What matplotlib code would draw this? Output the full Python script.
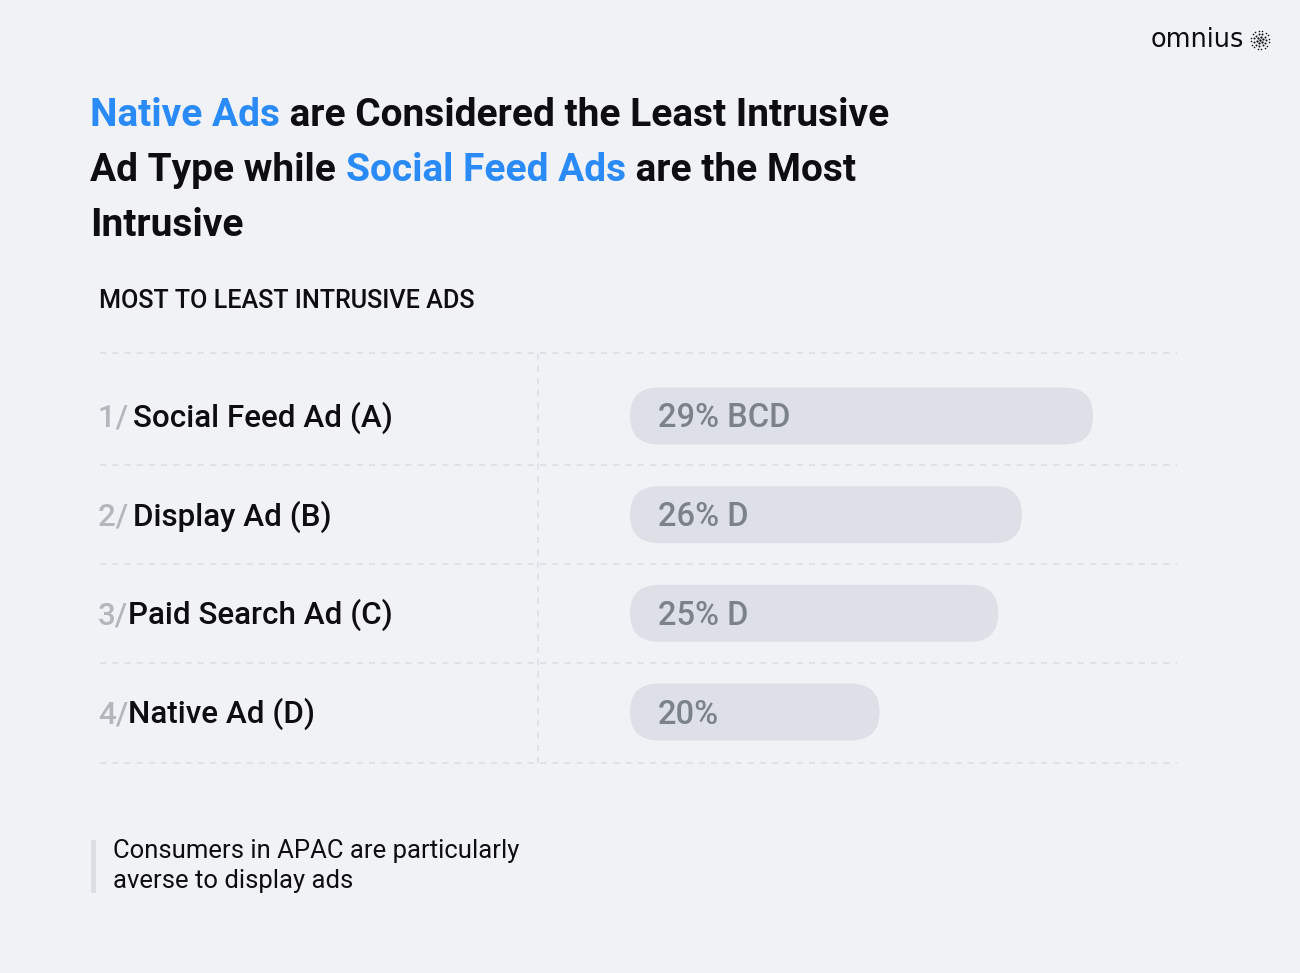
import matplotlib
matplotlib.use("Agg")
import matplotlib.pyplot as plt
from matplotlib.patches import FancyBboxPatch, Rectangle
from matplotlib.transforms import blended_transform_factory, offset_copy
import numpy as np

# ---------------- data ----------------
categories = ["Social Feed Ad (A)", "Display Ad (B)", "Paid Search Ad (C)", "Native Ad (D)"]
ranks = ["1/ ", "2/ ", "3/", "4/"]
values = [29, 26, 25, 20]
sig_letters = ["BCD", "D", "D", ""]
subtitle = "MOST TO LEAST INTRUSIVE ADS"
footnote = ["Consumers in APAC are particularly", "averse to display ads"]

BLUE = "#2a8af6"
INK = "#0e0e10"
BG = "#f0f2f6"
title_lines = [
    [("Native Ads", BLUE), (" are Considered the Least Intrusive", INK)],
    [("Ad Type while ", INK), ("Social Feed Ads", BLUE), (" are the Most", INK)],
    [("Intrusive", INK)],
]

# ---------------- figure ----------------
W, H = 1300, 973
fig = plt.figure(figsize=(W / 100, H / 100), dpi=100)
fig.patch.set_facecolor(BG)
renderer = fig.canvas.get_renderer()

FONT = "Roboto"


def fx(x):
    return x / W


def fy(y):
    return 1 - y / H


def text_width(s, **kw):
    t = fig.text(0, 0, s, **kw)
    w = t.get_window_extent(renderer).width
    t.remove()
    return w


def advance(s, **kw):
    return text_width(s + "|", **kw) - text_width("|", **kw)


# ---------------- title ----------------
tkw = dict(family=FONT, weight="semibold")
line1 = "".join(p[0] for p in title_lines[0])
tsize = 30 * 798 / text_width(line1, fontsize=30, **tkw)
baselines = [126, 181, 236]
for pieces, yb in zip(title_lines, baselines):
    prefix = ""
    for s, col in pieces:
        dx = advance(prefix, fontsize=tsize, **tkw) if prefix else 0
        fig.text(fx(90 + dx), fy(yb), s, color=col, fontsize=tsize,
                 ha="left", va="baseline", **tkw)
        prefix += s

# ---------------- subtitle ----------------
skw = dict(family=FONT, weight="medium")
ssize = 16 * 376 / text_width(subtitle, fontsize=16, **skw)
fig.text(fx(99), fy(308), subtitle, color=INK, fontsize=ssize,
         ha="left", va="baseline", **skw)

# ---------------- table axes ----------------
TOP, BOT, LEFT, RIGHT = 353, 763, 100, 1177
ROW = 98.7
y_top = -63 / ROW
y_bot = 3 + 51 / ROW

ax_tab = fig.add_axes([fx(LEFT), fy(BOT), (RIGHT - LEFT) / W, (BOT - TOP) / H])
ax_tab.set_facecolor("none")
ax_tab.set_xlim(0, 1)
ax_tab.set_ylim(y_bot, y_top)
ax_tab.axis("off")

dash_col = "#dadde3"
for yl in [y_top, 0.5, 1.5, 2.5, y_bot]:
    ax_tab.axhline(yl, color=dash_col, lw=1.1, dashes=(4, 4), clip_on=False)
ax_tab.axvline((538 - LEFT) / (RIGHT - LEFT), color=dash_col, lw=1.1,
               dashes=(4, 4), clip_on=False)

# row labels
lkw = dict(family=FONT, weight="medium", fontsize=22.6)
trans_lab = blended_transform_factory(ax_tab.transAxes, ax_tab.transData)
x_lab = (98 - LEFT) / (RIGHT - LEFT)
for i, (rk, cat) in enumerate(zip(ranks, categories)):
    base = offset_copy(trans_lab, fig=fig, x=0, y=-11, units="dots")
    ax_tab.text(x_lab, i, rk, color="#b3b7bd", transform=base,
                ha="left", va="baseline", **lkw)
    dx = advance(rk, **lkw) - (3 if rk.endswith(" ") else 0)
    tr = offset_copy(trans_lab, fig=fig, x=dx, y=-11, units="dots")
    ax_tab.text(x_lab, i, cat, color=INK, transform=tr,
                ha="left", va="baseline", **lkw)

# ---------------- bar axes ----------------
BAR_L = 630
px_per_val = 23.74
base_val = 9.49
ax_bar = fig.add_axes([fx(BAR_L), fy(BOT), (RIGHT - BAR_L) / W, (BOT - TOP) / H])
ax_bar.set_facecolor("none")
ax_bar.set_xlim(base_val, base_val + (RIGHT - BAR_L) / px_per_val)
ax_bar.set_ylim(y_bot, y_top)
ax_bar.axis("off")

bar_h = 57 / ROW
m_aspect = px_per_val / ROW
r_x = 0.499 * bar_h / m_aspect
for i, (v, sg) in enumerate(zip(values, sig_letters)):
    patch = FancyBboxPatch((base_val, i - bar_h / 2), v - base_val, bar_h,
                           boxstyle=f"round,pad=0,rounding_size={r_x}",
                           mutation_aspect=m_aspect,
                           facecolor="#dde1e7", edgecolor="none")
    ax_bar.add_patch(patch)
    label = f"{v}%" + (f" {sg}" if sg else "")
    tr = offset_copy(ax_bar.transData, fig=fig, x=28, y=-11.5, units="dots")
    ax_bar.text(base_val, i, label, transform=tr, color="#7c828a",
                ha="left", va="baseline", family=FONT, weight="medium",
                fontsize=23.5)

# ---------------- footnote ----------------
fig.patches.append(Rectangle((fx(91), fy(893)), 5 / W, 53 / H,
                             transform=fig.transFigure, facecolor="#dcdee3",
                             edgecolor="none"))
fkw = dict(family=FONT, weight="normal")
fsize = 16 * 406 / text_width(footnote[0], fontsize=16, **fkw)
for line, yb in zip(footnote, [858, 888]):
    fig.text(fx(113), fy(yb), line, color=INK, fontsize=fsize,
             ha="left", va="baseline", **fkw)

# ---------------- logo ----------------
lgkw = dict(family="DejaVu Sans", weight="normal")
lgsize = 16 * 94 / text_width("omnius", fontsize=16, **lgkw)
fig.text(fx(1151), fy(47), "omnius", color=INK, fontsize=lgsize,
         ha="left", va="baseline", **lgkw)
ax_logo = fig.add_axes([fx(1249), fy(51), 22 / W, 22 / H])
ax_logo.set_xlim(-1.1, 1.1)
ax_logo.set_ylim(-1.1, 1.1)
ax_logo.set_aspect("equal")
ax_logo.axis("off")
for r, n, s in [(0.0, 1, 3), (0.3, 6, 2.6), (0.6, 11, 2.0), (0.92, 16, 1.3)]:
    ang = np.linspace(0, 2 * np.pi, n, endpoint=False) + r
    ax_logo.scatter(r * np.cos(ang), r * np.sin(ang), s=s, color=INK, lw=0)

fig.savefig("out.png", dpi=100, facecolor=BG)
